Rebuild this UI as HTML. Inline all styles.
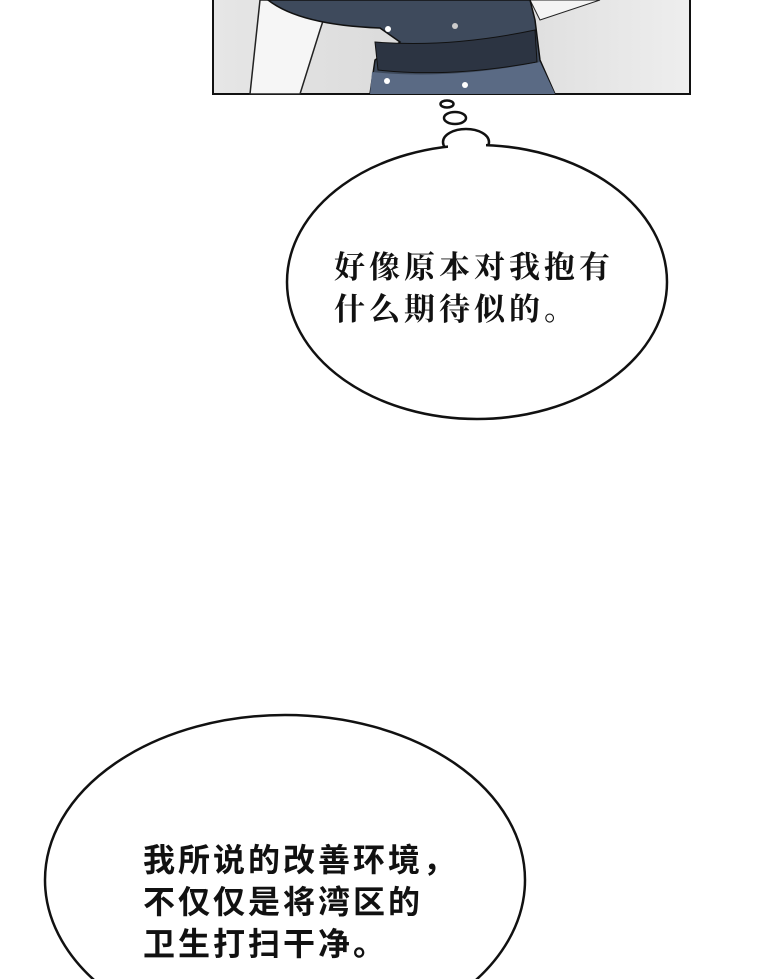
<!DOCTYPE html>
<html style="overflow:hidden"><head><meta charset="utf-8"><style>
html,body{margin:0;background:#fff;width:760px;height:979px;overflow:hidden}
body{position:relative}
svg{position:absolute;left:0;top:0;display:block}
.t{font-family:"Liberation Sans","Noto Sans CJK SC",sans-serif;fill:#111}
.s{font-family:"Liberation Serif","Noto Serif CJK SC",serif;fill:#111}
</style></head><body>
<svg width="760" height="979" viewBox="0 0 760 979">
<defs><linearGradient id="bg" x1="0" x2="1"><stop offset="0" stop-color="#e6e6e6"/><stop offset="0.5" stop-color="#d8d8d8"/><stop offset="1" stop-color="#eeeeee"/></linearGradient></defs>
<rect x="213" y="-2" width="477" height="96" fill="url(#bg)" stroke="#111" stroke-width="2"/>
<path d="M260 0 L250 94 L300 94 L320 30 L330 0Z" fill="#f6f6f6" stroke="#222" stroke-width="1.5"/>
<path d="M530 0 L540 20 L600 0Z" fill="#f4f4f4" stroke="#222"/>
<path d="M268 0 Q300 25 380 28 L400 42 L375 60 L370 94 L555 94 L540 60 L535 20 L530 0Z" fill="#3e4a5c" stroke="#111" stroke-width="1.5"/>
<path d="M375 42 Q450 48 535 30 L537 62 Q450 78 378 70Z" fill="#2c3442" stroke="#111"/>
<path d="M372 72 L370 94 L555 94 L540 62 Q450 80 372 72Z" fill="#5a6a84"/>
<circle cx="388" cy="29" r="3" fill="#fff"/><circle cx="455" cy="26" r="3" fill="#ccc"/>
<circle cx="387" cy="81" r="3" fill="#fff"/><circle cx="465" cy="85" r="3" fill="#fff"/>
<ellipse cx="447" cy="104" rx="6.5" ry="3.5" fill="#fff" stroke="#111" stroke-width="2.5"/>
<ellipse cx="455" cy="118" rx="11" ry="6" fill="#fff" stroke="#111" stroke-width="2.5"/>
<ellipse cx="466" cy="142" rx="23" ry="13" fill="#fff" stroke="#111" stroke-width="2.5"/>
<ellipse cx="477" cy="282" rx="190" ry="137" fill="#fff" stroke="#111" stroke-width="2.5"/>
<rect x="448" y="140" width="38" height="12" fill="#fff"/>
<text class="s" font-size="31" font-weight="bold" letter-spacing="4" x="334" y="278">好像原本对我抱有</text>
<text class="s" font-size="31" font-weight="bold" letter-spacing="4" x="334" y="320">什么期待似的。</text>
<ellipse cx="285" cy="880" rx="240" ry="165" fill="#fff" stroke="#111" stroke-width="2.5"/>
<text class="t" font-size="32" font-weight="bold" letter-spacing="3" x="143" y="871">我所说的改善环境，</text>
<text class="t" font-size="32" font-weight="bold" letter-spacing="3" x="143" y="913">不仅仅是将湾区的</text>
<text class="t" font-size="32" font-weight="bold" letter-spacing="3" x="143" y="955">卫生打扫干净。</text>
</svg>
</body></html>
